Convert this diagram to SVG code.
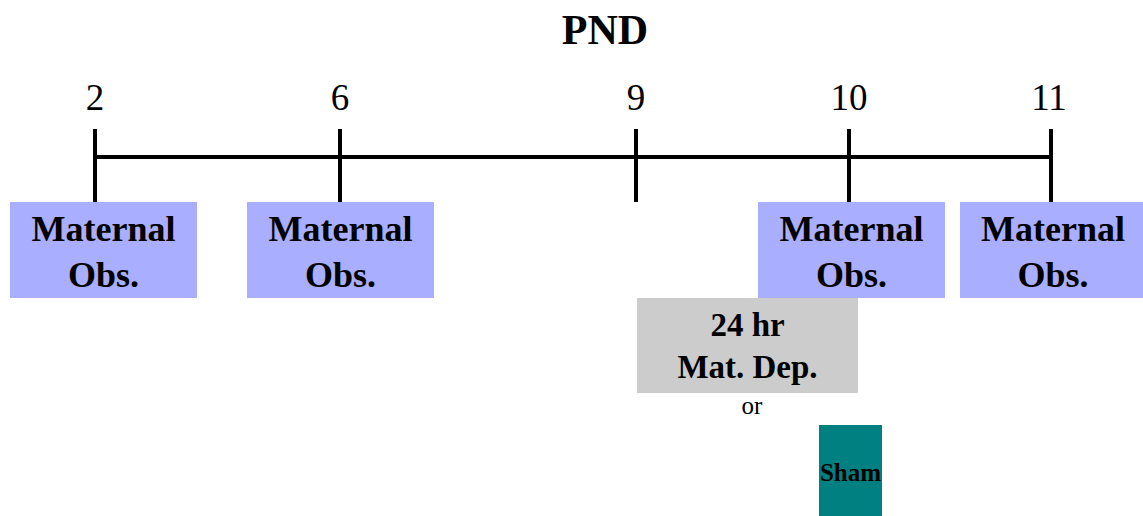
<svg xmlns="http://www.w3.org/2000/svg" width="1143" height="516" viewBox="0 0 1143 516">
<style>
text{font-family:"Liberation Serif","Times New Roman",serif;fill:#000;text-anchor:middle}
.b{font-weight:bold}
.obs{fill:#AAAEFF}
.ln{stroke:#000;stroke-width:4;fill:none}
</style>
<rect width="1143" height="516" fill="#fff"/>
<text class="b" x="605" y="44" font-size="42">PND</text>
<g id="connectors">
<line class="ln" x1="95" y1="157" x2="1051" y2="157"/>
<line class="ln" x1="95" y1="129" x2="95" y2="202"/>
<line class="ln" x1="340" y1="129" x2="340" y2="202"/>
<line class="ln" x1="636" y1="129" x2="636" y2="202"/>
<line class="ln" x1="849" y1="129" x2="849" y2="202"/>
<line class="ln" x1="1051" y1="129" x2="1051" y2="202"/>
</g>
<g id="labels" font-size="37">
<text x="95" y="110">2</text>
<text x="340" y="110">6</text>
<text x="636" y="110">9</text>
<text x="849" y="110">10</text>
<text x="1049" y="110">11</text>
</g>
<g id="obs2"><rect class="obs" x="10" y="202" width="187" height="96"/><text class="b" x="103.5" y="241" font-size="36">Maternal</text><text class="b" x="103.5" y="287" font-size="36">Obs.</text></g>
<g id="obs6"><rect class="obs" x="247" y="202" width="187" height="96"/><text class="b" x="340.5" y="241" font-size="36">Maternal</text><text class="b" x="340.5" y="287" font-size="36">Obs.</text></g>
<g id="obs10"><rect class="obs" x="758" y="202" width="187" height="96"/><text class="b" x="851.5" y="241" font-size="36">Maternal</text><text class="b" x="851.5" y="287" font-size="36">Obs.</text></g>
<g id="obs11"><rect class="obs" x="960" y="202" width="187" height="96"/><text class="b" x="1053" y="241" font-size="36">Maternal</text><text class="b" x="1053" y="287" font-size="36">Obs.</text></g>
<g id="matdep"><rect x="637" y="298" width="221" height="95" fill="#CCCCCC"/><text class="b" x="747.5" y="336" font-size="33">24 hr</text><text class="b" x="747.5" y="378" font-size="33">Mat. Dep.</text></g>
<g id="or"><text x="752" y="414" font-size="25">or</text></g>
<g id="sham"><rect x="819" y="425" width="63" height="91" fill="#008080"/><text class="b" x="850.5" y="481" font-size="25">Sham</text></g>
</svg>
